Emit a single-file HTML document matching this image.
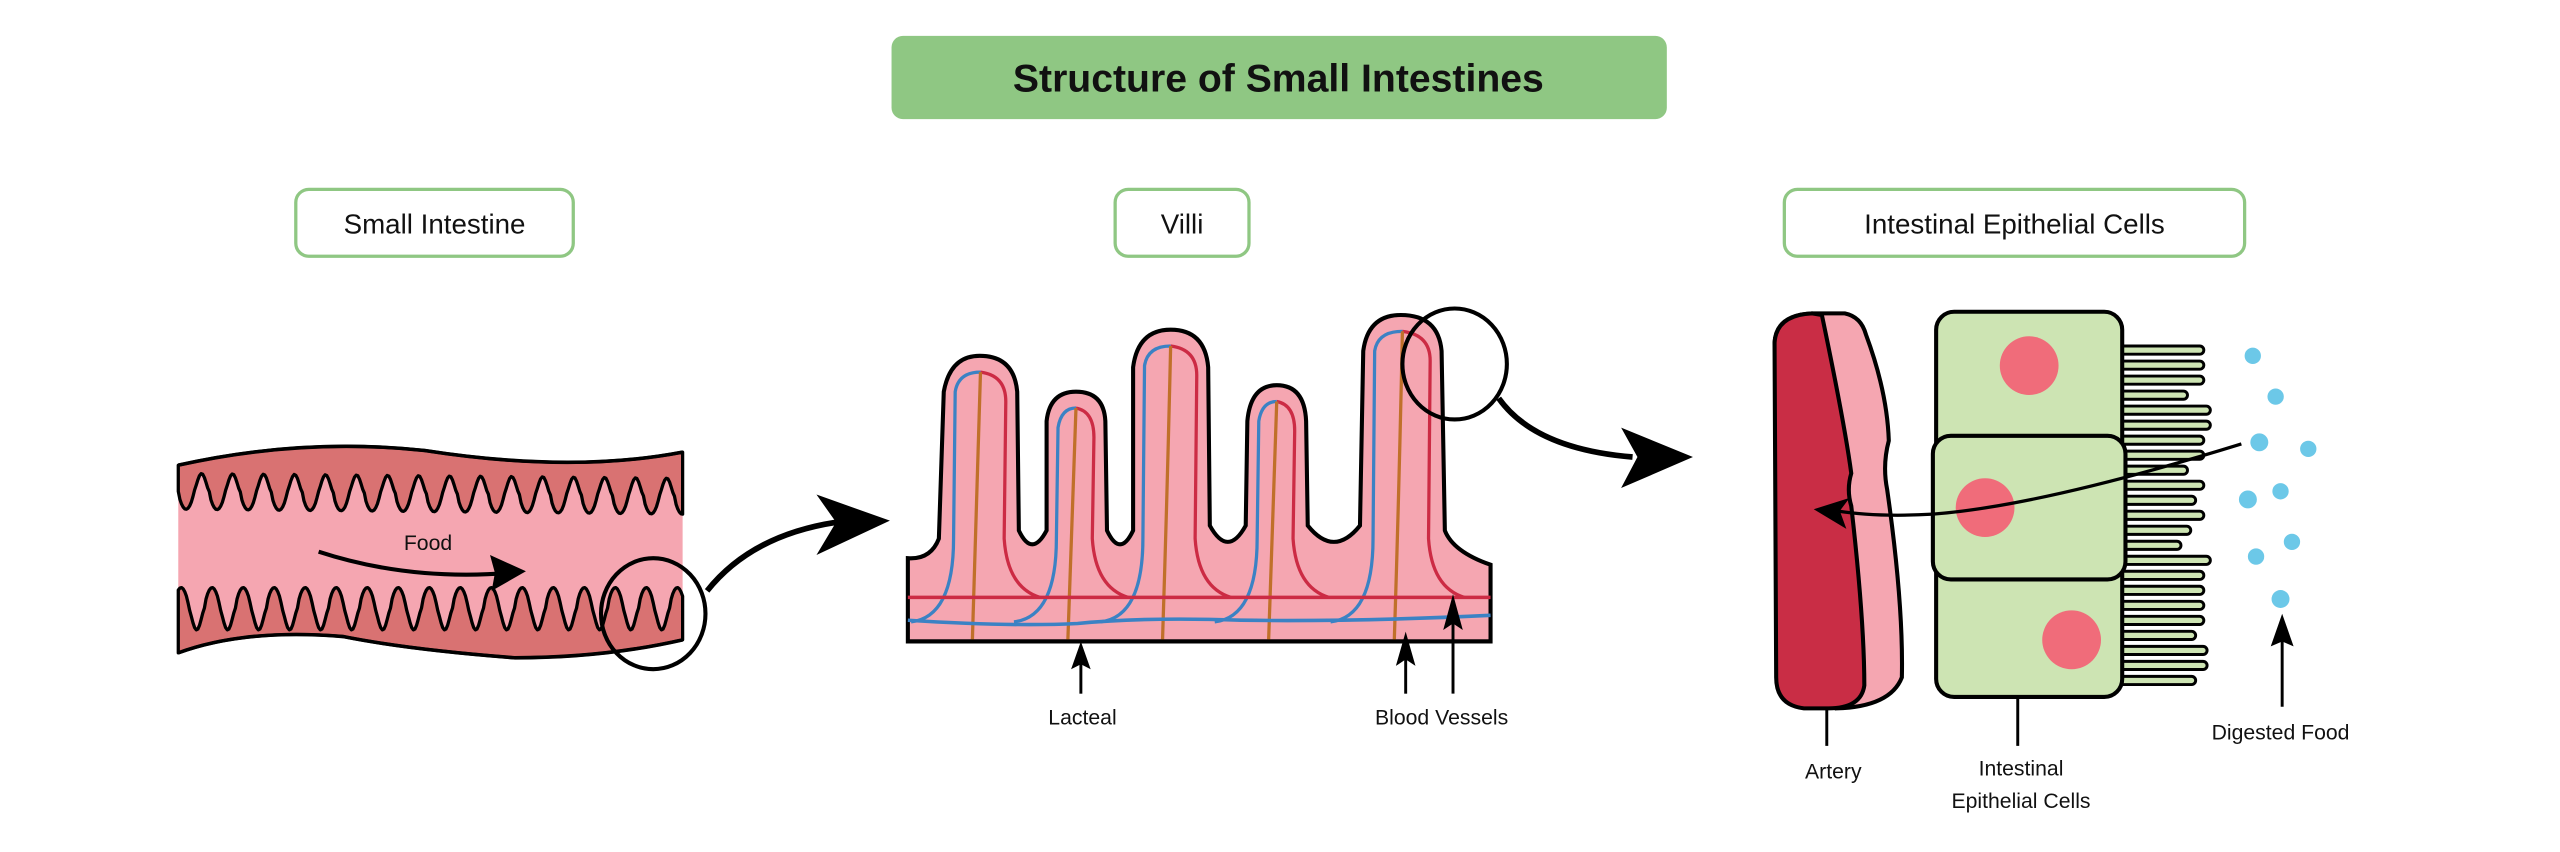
<!DOCTYPE html>
<html><head><meta charset="utf-8"><style>
html,body{margin:0;padding:0;background:#fff;}
svg{display:block;}
text{font-family:"Liberation Sans",sans-serif;}
</style></head><body>
<svg id="s" width="2560" height="852" viewBox="0 0 1568 522" xmlns="http://www.w3.org/2000/svg">
<rect width="1568" height="522" fill="#fff"/>
<rect x="546" y="22" width="475" height="51" rx="7" fill="#8fc783"/>
<text x="783" y="56" font-size="24" font-weight="bold" text-anchor="middle" fill="#111">Structure of Small Intestines</text>
<rect x="181" y="116" width="170" height="41" rx="8" fill="#fff" stroke="#8fc783" stroke-width="2"/>
<text x="266" y="143" font-size="17" text-anchor="middle" fill="#111">Small Intestine</text>
<rect x="683" y="116" width="82" height="41" rx="8" fill="#fff" stroke="#8fc783" stroke-width="2"/>
<text x="724" y="143" font-size="17" text-anchor="middle" fill="#111">Villi</text>
<rect x="1093" y="116" width="282" height="41" rx="8" fill="#fff" stroke="#8fc783" stroke-width="2"/>
<text x="1234" y="143" font-size="17" text-anchor="middle" fill="#111">Intestinal Epithelial Cells</text>

<g id="si" stroke="#000" stroke-width="2" stroke-linejoin="round">
<path d="M109,285 Q185,268 260,276 Q350,290 418,277 L418,392 Q370,403 315,403 Q250,398 210,390 Q150,385 109,400 Z" fill="#f5a6b1" stroke="none"/>
</g>
<path d="M109,285 Q185,268 260,276 Q350,290 418,277 M418,392 Q370,403 315,403 Q250,398 210,390 Q150,385 109,400" fill="none" stroke="#000" stroke-width="2.2"/>
<path d="M195,338 Q250,356 312,351" fill="none" stroke="#000" stroke-width="2.5"/>
<polygon points="322,350 300,340 303,351 301,362" fill="#000"/>
<text x="262" y="337" font-size="13" text-anchor="middle" fill="#111">Food</text>
<ellipse cx="400" cy="376" rx="32" ry="34" fill="none" stroke="#000" stroke-width="2.5"/>
<path d="M433,362 Q460,328 512,320" fill="none" stroke="#000" stroke-width="3.5"/>
<polygon points="545,319 500,303 512,320 500,340" fill="#000"/>

<path d="M556,393 L556,342 Q570,343 575,330 L578,240 Q582,218 600,218 Q621,218 623,240 L624,325 Q632,342 641,325 L641,258 Q643,240 659,240 Q676,240 677,258 L678,325 Q686,342 694,325 L694,225 Q697,202 717,202 Q738,202 740,225 L741,322 Q752,342 763,322 L764,258 Q766,236 782,236 Q799,236 800,258 L801,322 Q817,342 833,322 L835,215 Q838,193 858,193 Q881,193 883,215 L885,325 Q890,338 913,346 L913,393 Z" fill="#f5a6b1" stroke="#000" stroke-width="2.5"/>
<g id="vin" fill="none" stroke-width="2"></g>
<path d="M556,366 L913,366" stroke="#cc2b44" stroke-width="2.2"/>
<path d="M556,380 Q620,384 660,382 Q700,378 760,380 Q830,381 913,377" fill="none" stroke="#3b82c4" stroke-width="2.2"/>
<path d="M556,393 L913,393" stroke="#000" stroke-width="2.5"/>
<ellipse cx="891" cy="223" rx="32" ry="34" fill="none" stroke="#000" stroke-width="2.5"/>
<path d="M918,244 Q940,275 1000,280" fill="none" stroke="#000" stroke-width="3.5"/>
<polygon points="1037,280 993,262 1003,280 993,299" fill="#000"/>
<g stroke="#000" stroke-width="1.8">
<line x1="662" y1="425" x2="662" y2="400"/>
<line x1="861" y1="425" x2="861" y2="398"/>
<line x1="890" y1="425" x2="890" y2="372"/>
<line x1="1119" y1="457" x2="1119" y2="410"/>
<line x1="1236" y1="457" x2="1236" y2="410"/>
<line x1="1398" y1="433" x2="1398" y2="385"/>
</g>
<g fill="#000">
<polygon points="662,393 656,410 662,407 668,410"/>
<polygon points="861,387 855,408 861,404 867,408"/>
<polygon points="890,364 884,386 890,382 896,386"/>
<polygon points="1119,401 1112,421 1119,418 1126,421"/>
<polygon points="1236,401 1229,421 1236,418 1243,421"/>
<polygon points="1398,376 1391,396 1398,393 1405,396"/>
</g>
<g font-size="13" fill="#111" text-anchor="middle">
<text x="663" y="444">Lacteal</text>
<text x="883" y="444">Blood Vessels</text>
<text x="1123" y="477">Artery</text>
<text x="1238" y="475">Intestinal</text>
<text x="1238" y="495">Epithelial Cells</text>
<text x="1397" y="453">Digested Food</text>
</g>

<path d="M1087,210 Q1088,193 1110,192 L1130,192 Q1140,194 1143,205 Q1156,240 1157,270 Q1153,285 1156,300 Q1166,370 1165,415 Q1158,433 1125,434 Z" fill="#f5a6b1" stroke="#000" stroke-width="2.5"/>
<path d="M1087,210 Q1088,193 1110,192 L1116,193 Q1130,260 1134,290 Q1131,300 1134,310 Q1142,380 1142,420 Q1140,434 1120,434 L1105,434 Q1088,432 1088,415 Z" fill="#c92d45" stroke="#000" stroke-width="2.5"/>
<g id="mv" fill="#cde4b3" stroke="#000" stroke-width="1.8"></g>
<rect x="1186" y="191" width="114" height="92" rx="11" fill="#cde4b3" stroke="#000" stroke-width="2.5"/>
<rect x="1186" y="340" width="114" height="87" rx="11" fill="#cde4b3" stroke="#000" stroke-width="2.5"/>
<rect x="1184" y="267" width="118" height="88" rx="11" fill="#cde4b3" stroke="#000" stroke-width="2.5"/>
<circle cx="1243" cy="224" r="18" fill="#f06c7a"/>
<circle cx="1216" cy="311" r="18" fill="#f06c7a"/>
<circle cx="1269" cy="392" r="18" fill="#f06c7a"/>
<g fill="#6cc8e8">
<circle cx="1380" cy="218" r="5"/><circle cx="1394" cy="243" r="5"/><circle cx="1384" cy="271" r="5.5"/>
<circle cx="1414" cy="275" r="5"/><circle cx="1377" cy="306" r="5.5"/><circle cx="1397" cy="301" r="5"/>
<circle cx="1404" cy="332" r="5"/><circle cx="1382" cy="341" r="5"/><circle cx="1397" cy="367" r="5.5"/>
</g>
<path d="M1373,272 Q1250,310 1184,315 Q1150,317 1125,313" fill="none" stroke="#000" stroke-width="2"/>
<polygon points="1111,312 1133,305 1127,313 1131,324" fill="#000"/>
</svg>
<script>
(function(){
var NS="http://www.w3.org/2000/svg";
function add(parent,tag,attrs){var e=document.createElementNS(NS,tag);for(var k in attrs)e.setAttribute(k,attrs[k]);parent.appendChild(e);return e;}
var si=document.getElementById('si');
var P=19;
var d="M109,285 Q185,268 260,276 Q350,290 418,277 L418,305 ";
for(var x=418;x>=109;x-=1){var ph=(x-109)/P*2*Math.PI;var s=Math.sin(ph);var y=301+11*(s>0?Math.pow(s,0.7):-Math.pow(-s,1.4))+ (x-109)/309*3;d+="L"+x+","+y.toFixed(1)+" ";}
d+="Z";
add(si,'path',{d:d,fill:'#d97272'});
var d2="M109,400 Q150,385 210,390 Q250,398 315,403 Q370,403 418,392 L418,375 ";
for(var x=418;x>=109;x-=1){var ph=(x-109)/P*2*Math.PI+1;var s=Math.sin(ph);var y=373-13*(s>0?Math.pow(s,0.7):-Math.pow(-s,1.4));d2+="L"+x+","+y.toFixed(1)+" ";}
d2+="Z";
add(si,'path',{d:d2,fill:'#d97272'});
var vin=document.getElementById('vin');
var V=[[578,623,218],[641,677,240],[694,740,202],[764,800,236],[835,883,193]];
V.forEach(function(v){var L=v[0],R=v[1],T=v[2],m=(L+R)/2;
add(vin,'path',{d:"M"+(L-20)+",381 Q"+(L+6)+",378 "+(L+6)+",330 L"+(L+7)+","+(T+22)+" Q"+(L+9)+","+(T+10)+" "+m+","+(T+10),stroke:'#3b82c4'});
add(vin,'path',{d:"M"+m+","+(T+10)+" Q"+(R-7)+","+(T+12)+" "+(R-7)+","+(T+28)+" L"+(R-8)+",330 Q"+(R-6)+",360 "+(R+14)+",366",stroke:'#cc2b44'});
add(vin,'path',{d:"M"+m+","+(T+10)+" Q"+(m-2)+",300 "+(m-5)+",393",stroke:'#c0702a'});
});
var mv=document.getElementById('mv');
var lens=[50,50,50,40,54,54,50,50,40,50,45,50,42,36,54,50,50,50,50,45,52,52,45];
for(var i=0;i<23;i++){var y=212+i*9.2;var w=lens[i];
add(mv,'path',{d:"M1290,"+y+" L"+(1300+w-2.5)+","+y+" A2.5,2.5 0 0 1 "+(1300+w-2.5)+","+(y+5)+" L1290,"+(y+5)});}
})();
</script>
</body></html>
